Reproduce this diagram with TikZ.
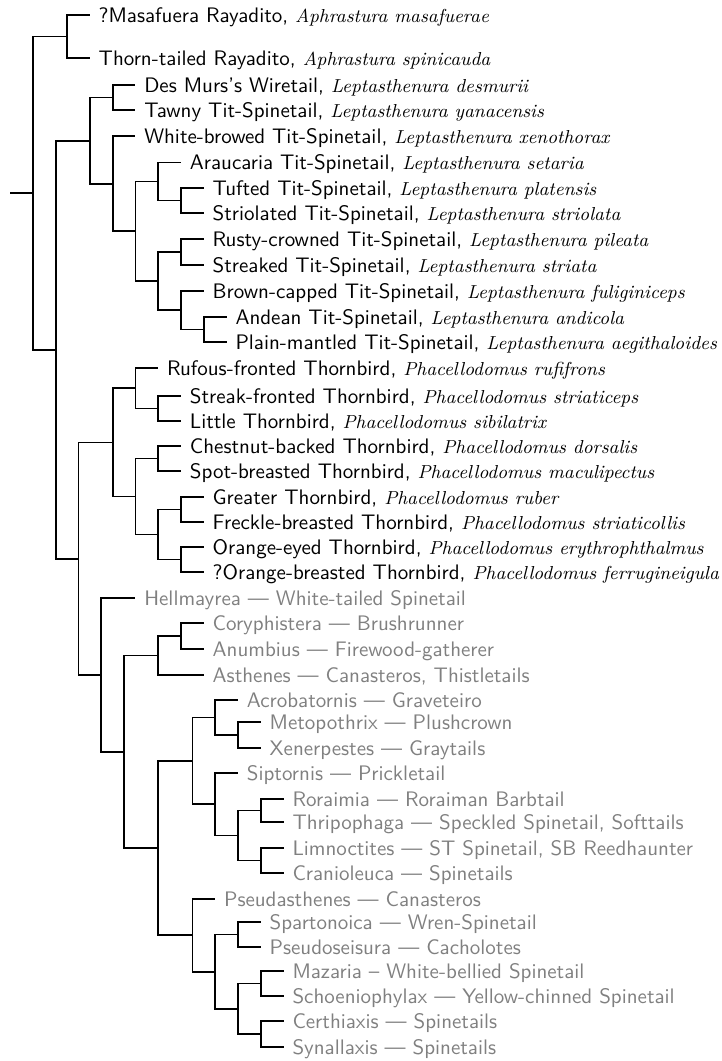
\documentclass[tikz,border=0pt]{standalone}
\usepackage{tikz}
\newcommand{\sciname}[1]{{\fontsize{9.4}{11}\selectfont\rmfamily\itshape #1}}

\begin{document}
\begin{tikzpicture}[x=0.5pt, y=-0.5pt, line width=0.9pt,
	leaf/.style = {anchor=west, inner xsep=4pt, inner ysep=0pt, text height=7pt, text depth=0pt, font={\fontsize{10.5}{12}\selectfont\sffamily}},
	genus/.style = {leaf, text=black!50}]
		\useasboundingbox (0,0) rectangle (722,1061);
		\node[leaf] (1) at (89.8,15) {?Masafuera Rayadito, \sciname{Aphrastura masafuerae}};
		\node[leaf] (2) at (89.8,58) {Thorn-tailed Rayadito, \sciname{Aphrastura spinicauda}};
		\node[leaf] (3) at (135.4,85) {Des Murs's Wiretail, \sciname{Leptasthenura desmurii}};
		\node[leaf] (4) at (135.4,110) {Tawny Tit-Spinetail, \sciname{Leptasthenura yanacensis}};
		\node[leaf] (5) at (135.4,136) {White-browed Tit-Spinetail, \sciname{Leptasthenura xenothorax}};
		\node[leaf] (6) at (181,162.5) {Araucaria Tit-Spinetail, \sciname{Leptasthenura setaria}};
		\node[leaf] (7) at (203.8,188) {Tufted Tit-Spinetail, \sciname{Leptasthenura platensis}};
		\node[leaf] (8) at (203.8,213) {Striolated Tit-Spinetail, \sciname{Leptasthenura striolata}};
		\node[leaf] (9) at (203.8,239) {Rusty-crowned Tit-Spinetail, \sciname{Leptasthenura pileata}};
		\node[leaf] (10) at (203.8,265) {Streaked Tit-Spinetail, \sciname{Leptasthenura striata}};
		\node[leaf] (11) at (203.8,291) {Brown-capped Tit-Spinetail, \sciname{Leptasthenura fuliginiceps}};
		\node[leaf] (12) at (226.6,317) {Andean Tit-Spinetail, \sciname{Leptasthenura andicola}};
		\node[leaf] (13) at (226.6,342) {Plain-mantled Tit-Spinetail, \sciname{Leptasthenura aegithaloides}};
		\node[leaf] (14) at (158.2,368) {Rufous-fronted Thornbird, \sciname{Phacellodomus rufifrons}};
		\node[leaf] (15) at (181,396) {Streak-fronted Thornbird, \sciname{Phacellodomus striaticeps}};
		\node[leaf] (16) at (181,421) {Little Thornbird, \sciname{Phacellodomus sibilatrix}};
		\node[leaf] (17) at (181,446) {Chestnut-backed Thornbird, \sciname{Phacellodomus dorsalis}};
		\node[leaf] (18) at (181,471) {Spot-breasted Thornbird, \sciname{Phacellodomus maculipectus}};
		\node[leaf] (19) at (203.8,497) {Greater Thornbird, \sciname{Phacellodomus ruber}};
		\node[leaf] (20) at (203.8,522) {Freckle-breasted Thornbird, \sciname{Phacellodomus striaticollis}};
		\node[leaf] (21) at (203.8,547) {Orange-eyed Thornbird, \sciname{Phacellodomus erythrophthalmus}};
		\node[leaf] (22) at (203.8,572) {?Orange-breasted Thornbird, \sciname{Phacellodomus ferrugineigula}};
		\node[genus] (23) at (135.4,598) {Hellmayrea \textemdash{} White-tailed Spinetail};
		\node[genus] (24) at (203.8,623) {Coryphistera \textemdash{} Brushrunner};
		\node[genus] (25) at (203.8,649) {Anumbius \textemdash{} Firewood-gatherer};
		\node[genus] (26) at (203.8,675) {Asthenes \textemdash{} Canasteros, Thistletails};
		\node[genus] (27) at (238,700) {Acrobatornis \textemdash{} Graveteiro};
		\node[genus] (28) at (260.8,722) {Metopothrix \textemdash{} Plushcrown};
		\node[genus] (29) at (260.8,748) {Xenerpestes \textemdash{} Graytails};
		\node[genus] (30) at (238,773) {Siptornis \textemdash{} Prickletail};
		\node[genus] (31) at (283.6,799) {Roraimia \textemdash{} Roraiman Barbtail};
		\node[genus] (32) at (283.6,822) {Thripophaga \textemdash{} Speckled Spinetail, Softtails};
		\node[genus] (33) at (283.6,848) {Limnoctites \textemdash{} ST Spinetail, SB Reedhaunter};
		\node[genus] (34) at (283.6,873) {Cranioleuca \textemdash{} Spinetails};
		\node[genus] (35) at (215.2,899) {Pseudasthenes \textemdash{} Canasteros};
		\node[genus] (36) at (260.8,922) {Spartonoica \textemdash{} Wren-Spinetail};
		\node[genus] (37) at (260.8,947) {Pseudoseisura \textemdash{} Cacholotes};
		\node[genus] (38) at (283.6,971) {Mazaria \textendash{} White-bellied Spinetail};
		\node[genus] (39) at (283.6,996) {Schoeniophylax \textemdash{} Yellow-chinned Spinetail};
		\node[genus] (40) at (283.6,1021) {Certhiaxis \textemdash{} Spinetails};
		\node[genus] (41) at (283.6,1047) {Synallaxis \textemdash{} Spinetails};
		\coordinate (base) at (10,193);
		\coordinate (root) at (32.8,193);
		\coordinate (a) at (67,36.5);
		\coordinate (b) at (55.6,349.6);
		\coordinate (c) at (89.8,140.6);
		\coordinate (c1) at (112.6,97.5);
		\coordinate (c2) at (112.6,183.7);
		\coordinate (c3) at (135.4,231.3);
		\coordinate (c4) at (158.2,181.5);
		\coordinate (c5) at (181,200.5);
		\coordinate (c6) at (158.2,281.1);
		\coordinate (c7) at (181,252);
		\coordinate (c8) at (181,310.3);
		\coordinate (c9) at (203.8,329.5);
		\coordinate (d) at (78.4,558.6);
		\coordinate (e) at (112.6,442.4);
		\coordinate (e1) at (135.4,388.3);
		\coordinate (e2) at (158.2,408.5);
		\coordinate (e3) at (135.4,496.5);
		\coordinate (e4) at (158.2,458.5);
		\coordinate (e5) at (158.2,534.5);
		\coordinate (e6) at (181,509.5);
		\coordinate (e7) at (181,559.5);
		\coordinate (f) at (101.2,674.9);
		\coordinate (g) at (124,751.8);
		\coordinate (h) at (158.2,655.5);
		\coordinate (h1) at (181,636);
		\coordinate (i) at (158.2,848.1);
		\coordinate (j) at (192.4,760.9);
		\coordinate (j1) at (215.2,717.5);
		\coordinate (j2) at (238,735);
		\coordinate (k) at (215.2,804.3);
		\coordinate (k1) at (238,835.5);
		\coordinate (k2) at (260.8,810.5);
		\coordinate (k3) at (260.8,860.5);
		\coordinate (l) at (192.4,935.3);
		\coordinate (m) at (215.2,971.6);
		\coordinate (m1) at (238,934.5);
		\coordinate (m2) at (238,1008.8);
		\coordinate (m3) at (260.8,983.5);
		\coordinate (m4) at (260.8,1034);
		\draw (base) -- (root);
		\draw (root) |- (a);
		\draw (root) |- (b);
		\draw (a) |- (1);
		\draw (a) |- (2);
		\draw (b) |- (c);
		\draw (b) |- (d);
		\draw (c) |- (c1);
		\draw (c) |- (c2);
		\draw (c1) |- (3);
		\draw (c1) |- (4);
		\draw (c2) |- (5);
		\draw (c2) |- (c3);
		\draw (c3) |- (c4);
		\draw (c3) |- (c6);
		\draw (c4) |- (6);
		\draw (c4) |- (c5);
		\draw (c5) |- (7);
		\draw (c5) |- (8);
		\draw (c6) |- (c7);
		\draw (c6) |- (c8);
		\draw (c7) |- (9);
		\draw (c7) |- (10);
		\draw (c8) |- (11);
		\draw (c8) |- (c9);
		\draw (c9) |- (12);
		\draw (c9) |- (13);
		\draw (d) |- (e);
		\draw (d) |- (f);
		\draw (e) |- (e1);
		\draw (e) |- (e3);
		\draw (e1) |- (14);
		\draw (e1) |- (e2);
		\draw (e2) |- (15);
		\draw (e2) |- (16);
		\draw (e3) |- (e4);
		\draw (e3) |- (e5);
		\draw (e4) |- (17);
		\draw (e4) |- (18);
		\draw (e5) |- (e6);
		\draw (e5) |- (e7);
		\draw (e6) |- (19);
		\draw (e6) |- (20);
		\draw (e7) |- (21);
		\draw (e7) |- (22);
		\draw (f) |- (23);
		\draw (f) |- (g);
		\draw (g) |- (h);
		\draw (g) |- (i);
		\draw (h) |- (h1);
		\draw (h) |- (26);
		\draw (h1) |- (24);
		\draw (h1) |- (25);
		\draw (i) |- (j);
		\draw (i) |- (l);
		\draw (j) |- (j1);
		\draw (j) |- (k);
		\draw (j1) |- (27);
		\draw (j1) |- (j2);
		\draw (j2) |- (28);
		\draw (j2) |- (29);
		\draw (k) |- (30);
		\draw (k) |- (k1);
		\draw (k1) |- (k2);
		\draw (k1) |- (k3);
		\draw (k2) |- (31);
		\draw (k2) |- (32);
		\draw (k3) |- (33);
		\draw (k3) |- (34);
		\draw (l) |- (35);
		\draw (l) |- (m);
		\draw (m) |- (m1);
		\draw (m) |- (m2);
		\draw (m1) |- (36);
		\draw (m1) |- (37);
		\draw (m2) |- (m3);
		\draw (m2) |- (m4);
		\draw (m3) |- (38);
		\draw (m3) |- (39);
		\draw (m4) |- (40);
		\draw (m4) |- (41);
	\end{tikzpicture}
\end{document}
